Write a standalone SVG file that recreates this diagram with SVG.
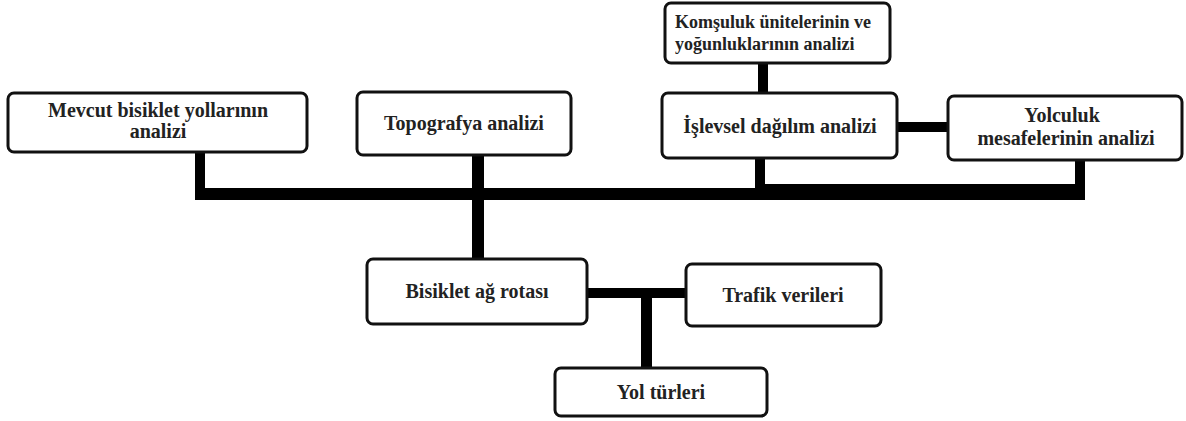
<svg xmlns="http://www.w3.org/2000/svg" width="1186" height="421" viewBox="0 0 1186 421">
<style>
.box{fill:#fff;stroke:#111;stroke-width:3}
.t{font-family:"Liberation Serif","Times New Roman",serif;font-weight:bold;font-size:20px;fill:#222;text-anchor:middle}
.s{font-size:18px;text-anchor:start}
.c{fill:#000}
</style>
<rect width="1186" height="421" fill="#fff"/>
<g id="connectors">
<rect class="c" x="195" y="152" width="10" height="48"/>
<rect class="c" x="195" y="188" width="570" height="12"/>
<rect class="c" x="760" y="184" width="325" height="16"/>
<rect class="c" x="472" y="155" width="12" height="104"/>
<rect class="c" x="758" y="63" width="10" height="30"/>
<rect class="c" x="755" y="158" width="10" height="30"/>
<rect class="c" x="897" y="122" width="51" height="10"/>
<rect class="c" x="1075" y="160" width="10" height="40"/>
<rect class="c" x="587" y="288" width="99" height="10"/>
<rect class="c" x="641" y="293" width="11" height="75"/>
</g>
<g id="mevcut">
<rect class="box" x="8" y="93" width="299" height="59" rx="6"/>
<text class="t" x="158" y="117">Mevcut bisiklet yollarının</text>
<text class="t" x="158" y="138">analizi</text>
</g>
<g id="topografya">
<rect class="box" x="357" y="92" width="214" height="63" rx="6"/>
<text class="t" x="464" y="130">Topografya analizi</text>
</g>
<g id="komsuluk">
<rect class="box" x="665" y="3" width="225" height="60" rx="6"/>
<text class="t s" x="675" y="28">Komşuluk ünitelerinin ve</text>
<text class="t s" x="675" y="50">yoğunluklarının analizi</text>
</g>
<g id="islevsel">
<rect class="box" x="662" y="93" width="235" height="65" rx="6"/>
<text class="t" x="780" y="133">İşlevsel dağılım analizi</text>
</g>
<g id="yolculuk">
<rect class="box" x="948" y="96" width="234" height="64" rx="6"/>
<text class="t" x="1062" y="122">Yolculuk</text>
<text class="t" x="1066" y="145">mesafelerinin analizi</text>
</g>
<g id="bisiklet">
<rect class="box" x="367" y="259" width="220" height="65" rx="6"/>
<text class="t" x="477" y="298">Bisiklet ağ rotası</text>
</g>
<g id="trafik">
<rect class="box" x="686" y="264" width="195" height="62" rx="6"/>
<text class="t" x="783" y="302">Trafik verileri</text>
</g>
<g id="yol">
<rect class="box" x="555" y="368" width="212" height="48" rx="6"/>
<text class="t" x="661" y="399">Yol türleri</text>
</g>
</svg>
